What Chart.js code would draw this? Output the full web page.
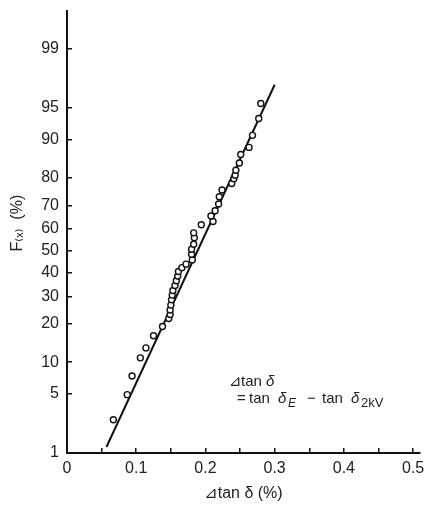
<!DOCTYPE html>
<html>
<head>
<meta charset="utf-8">
<script src="https://cdn.jsdelivr.net/npm/chart.js@4"></script>
<style>
  body { margin: 0; background: #fff; }
</style>
</head>
<body>
<canvas id="chart" width="427" height="512"></canvas>
<script>
// measured points: Δtanδ (%) and cumulative probability F(x) (%)
const deltaTan = [0.067, 0.087, 0.094, 0.106, 0.114, 0.125, 0.138, 0.147, 0.149, 0.149,
    0.150, 0.151, 0.152, 0.153, 0.156, 0.158, 0.160, 0.161, 0.166, 0.172,
    0.181, 0.180, 0.180, 0.183, 0.184, 0.183, 0.194, 0.211, 0.208, 0.214,
    0.219, 0.220, 0.224, 0.238, 0.241, 0.243, 0.244, 0.249, 0.251, 0.263,
    0.268, 0.277, 0.280];
const cumPercent = [2.6, 4.9, 7.5, 10.9, 13.2, 16.4, 19.2, 21.8, 23.2, 24.8,
    26.6, 28.7, 30.5, 32.4, 34.5, 36.5, 38.6, 40.6, 42.3, 43.9,
    45.8, 48.4, 50.7, 53.0, 56.0, 58.2, 61.8, 63.2, 65.6, 67.8,
    70.5, 73.3, 75.8, 78.1, 79.7, 80.8, 82.3, 84.4, 86.6, 88.3,
    90.8, 93.6, 95.5];

// fitted straight line (ends)
const fitX = [0.057, 0.300];
const fitF = [1.2, 97.2];

// axis ticks
const yTickPercent = [1, 5, 10, 20, 30, 40, 50, 60, 70, 80, 90, 95, 99];
const yTickLabels = ['1', '5', '10', '20', '30', '40', '50', '60', '70', '80', '90', '95', '99'];
const xTickValues = [0, 0.05, 0.1, 0.15, 0.2, 0.25, 0.3, 0.35, 0.4, 0.45, 0.5];
const xTickLabels = ['0', '', '0.1', '', '0.2', '', '0.3', '', '0.4', '', '0.5'];

// inverse of the standard normal cdf (normal probability paper)
function probit(pct) {
    const p = pct / 100;
    const q = p < 0.5 ? p : 1 - p;
    const t = Math.sqrt(-2 * Math.log(q));
    const z = t - (2.515517 + 0.802853 * t + 0.010328 * t * t) /
        (1 + 1.432788 * t + 0.189269 * t * t + 0.001308 * t * t * t);
    return p < 0.5 ? -z : z;
}

const FONT = "'Liberation Sans', 'DejaVu Sans', sans-serif";

const noteText = {
    id: 'noteText',
    afterDraw(chart) {
        const ctx = chart.ctx;
        const xs = chart.scales.x;
        const ys = chart.scales.y;
        const x0 = xs.getPixelForValue(0.234);
        const y0 = ys.getPixelForValue(probit(6.0));
        ctx.save();
        ctx.fillStyle = '#222';
        ctx.textBaseline = 'alphabetic';
        const put = (txt, dx, y, font) => {
            ctx.font = font;
            ctx.fillText(txt, x0 + dx, y);
        };
        const up = '15px ' + FONT;
        const it = 'italic 15px ' + FONT;
        const sub = '13px ' + FONT;
        const subIt = 'italic 12px ' + FONT;
        put('⊿', 0, y0, it);
        put('tan', 12, y0, up);
        put('δ', 37, y0, it);
        const y1 = y0 + 17;
        put('=', 8, y1, up);
        put('tan', 20, y1, up);
        put('δ', 49, y1, it);
        put('E', 59, y1 + 4, subIt);
        put('−', 78, y1, up);
        put('tan', 93, y1, up);
        put('δ', 122, y1, it);
        put('2kV', 132, y1 + 4, sub);
        ctx.restore();
    }
};

new Chart(document.getElementById('chart'), {
    type: 'scatter',
    data: {
        datasets: [
            {
                data: deltaTan.map((v, i) => ({ x: v, y: probit(cumPercent[i]) })),
                pointRadius: 3,
                pointBorderWidth: 1.4,
                pointBackgroundColor: '#fff',
                pointBorderColor: '#111',
                order: 0,
            },
            {
                data: fitX.map((v, i) => ({ x: v, y: probit(fitF[i]) })),
                showLine: true,
                borderColor: '#111',
                borderWidth: 2,
                pointRadius: 0,
                order: 1,
            },
        ],
    },
    options: {
        responsive: false,
        animation: false,
        layout: { padding: { top: 11, right: 7, left: 0, bottom: 0 } },
        plugins: {
            legend: { display: false },
            tooltip: { enabled: false },
        },
        scales: {
            x: {
                type: 'linear',
                min: 0,
                max: 0.51,
                afterBuildTicks: (s) => { s.ticks = xTickValues.map(v => ({ value: v })); },
                afterFit: (s) => { s.height = 59; s.paddingLeft = 0; s.paddingRight = 0; },
                border: { color: '#111', width: 2 },
                grid: { drawOnChartArea: false, tickLength: -5, color: '#111', lineWidth: 1.5 },
                ticks: {
                    padding: 11,
                    color: '#222',
                    font: { family: FONT, size: 16 },
                    maxRotation: 0,
                    autoSkip: false,
                    callback: (v, i) => xTickLabels[i],
                },
                title: {
                    display: true,
                    text: '⊿tan δ (%)',
                    color: '#222',
                    font: { family: FONT, size: 16 },
                    padding: { top: 0, bottom: 9 },
                },
            },
            y: {
                type: 'linear',
                min: probit(1),
                max: 2.76,
                afterBuildTicks: (s) => { s.ticks = yTickPercent.map(p => ({ value: probit(p) })); },
                afterFit: (s) => { s.width = 67; s.paddingTop = 0; s.paddingBottom = 0; },
                border: { color: '#111', width: 2 },
                grid: { drawOnChartArea: false, tickLength: -5, color: '#111', lineWidth: 1.5 },
                ticks: {
                    padding: 13,
                    color: '#222',
                    font: { family: FONT, size: 16 },
                    autoSkip: false,
                    callback: (v, i) => yTickLabels[i],
                },
                title: {
                    display: true,
                    text: '    F₍ₓ₎  (%)',
                    color: '#222',
                    font: { family: FONT, size: 16 },
                    padding: { top: 8, bottom: 0 },
                },
            },
        },
    },
    plugins: [noteText],
});
</script>
</body>
</html>
